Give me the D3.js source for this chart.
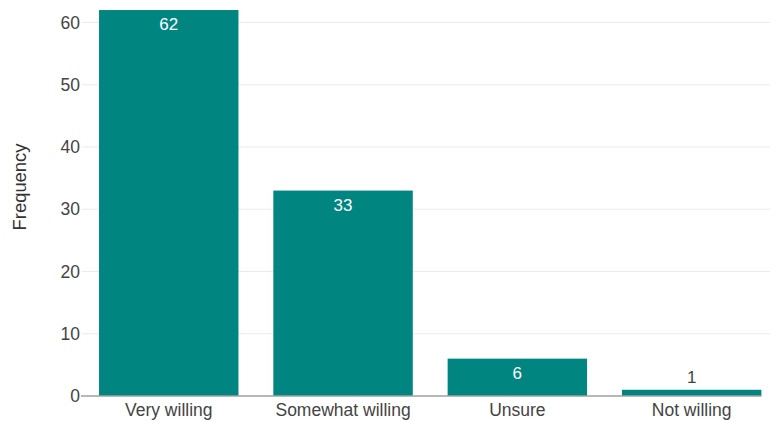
<!DOCTYPE html>
<html><head><meta charset="utf-8">
<script src="https://cdn.jsdelivr.net/npm/d3@7"></script>
<style>body{margin:0;background:#fff;}svg{display:block;font-family:"Liberation Sans",Arial,sans-serif;}</style>
</head><body>
<svg id="c" width="770" height="421"></svg>
<script>
const categories = ["Very willing", "Somewhat willing", "Unsure", "Not willing"];
const values = [62, 33, 6, 1];
const yTicks = [0, 10, 20, 30, 40, 50, 60];
const yLabel = "Frequency";

const svg = d3.select("#c");
const x = d3.scaleBand().domain(categories).range([81.6, 778.8]).paddingInner(0.2).paddingOuter(0.1);
const y = d3.scaleLinear().domain([0, 60]).range([396, 22.5]);

// gridlines
svg.append("g").selectAll("line").data(yTicks.filter(d => d > 0)).join("line")
  .attr("x1", 82).attr("x2", 770)
  .attr("y1", d => y(d)).attr("y2", d => y(d))
  .attr("stroke", "#ebebeb").attr("stroke-width", 1.2);

// y axis labels
const yAxis = d3.axisLeft(y).tickValues(yTicks).tickSize(0).tickPadding(0);
const gy = svg.append("g").attr("transform", "translate(80,0)").call(yAxis);
gy.select(".domain").remove();
gy.selectAll("text").attr("font-size", "17.5px").attr("fill", "#444").attr("font-family", "Liberation Sans, Arial, sans-serif");

// bars
svg.append("g").selectAll("rect").data(values).join("rect")
  .attr("x", (d, i) => x(categories[i]))
  .attr("width", x.bandwidth())
  .attr("y", d => y(d))
  .attr("height", d => y(0) - y(d))
  .attr("fill", "#008581");

// x axis
const xAxis = d3.axisBottom(x).tickSize(0).tickPadding(0);
const gx = svg.append("g").attr("transform", `translate(0,${y(0)})`).call(xAxis);
gx.select(".domain").remove();
gx.selectAll("text").attr("font-size", "17.5px").attr("fill", "#444").attr("dy", null).attr("y", 20)
  .attr("font-family", "Liberation Sans, Arial, sans-serif");
svg.append("line").attr("x1", 81).attr("x2", x(categories[3]) + x.bandwidth())
  .attr("y1", y(0)).attr("y2", y(0)).attr("stroke", "#a0a0a0").attr("stroke-width", 1.6);

// value labels
svg.append("g").selectAll("text").data(values).join("text")
  .attr("x", (d, i) => x(categories[i]) + x.bandwidth() / 2)
  .attr("y", d => (y(0) - y(d)) > 25 ? y(d) + 20 : y(d) - 7)
  .attr("text-anchor", "middle")
  .attr("font-size", "17px")
  .attr("fill", d => (y(0) - y(d)) > 25 ? "#ffffff" : "#444")
  .text(d => d);

// y label
svg.append("text").attr("transform", "translate(25.5,187) rotate(-90)")
  .attr("text-anchor", "middle").attr("font-size", "18.4px").attr("fill", "#333")
  .text(yLabel);
</script>
</body></html>
